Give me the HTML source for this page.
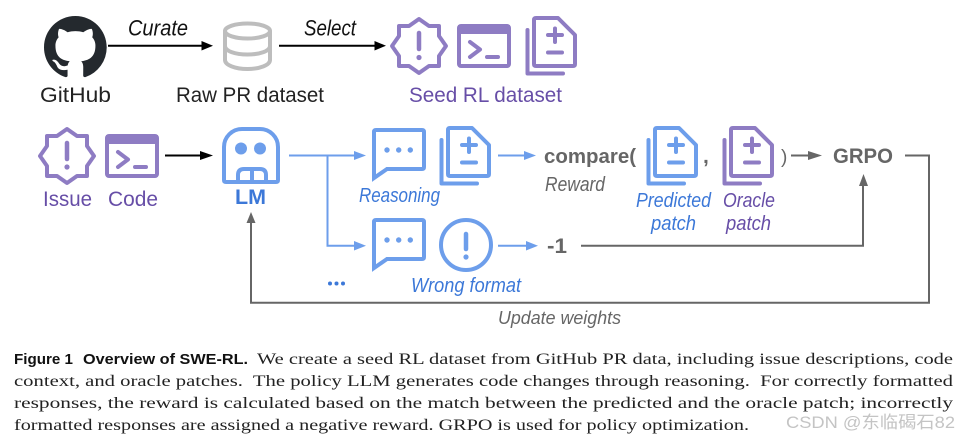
<!DOCTYPE html>
<html><head><meta charset="utf-8"><style>
html,body{margin:0;padding:0;background:#fff;width:958px;height:439px;overflow:hidden}
svg{display:block}
text{font-family:"Liberation Sans",sans-serif;font-size:21px}
.i{font-style:italic;font-size:20px}
.b{font-weight:bold}
.cap{font-family:"Liberation Serif",serif;font-size:16px;fill:#222;white-space:pre}
.fig{font-family:"Liberation Sans",sans-serif;font-size:15px;font-weight:bold;fill:#111}
</style></head><body>
<svg width="958" height="439" viewBox="0 0 958 439" xmlns="http://www.w3.org/2000/svg">
<defs>
<g id="badge" fill="none" stroke-width="4" stroke-linejoin="round" stroke-linecap="round">
<path d="M0-27 10-20H20V-10L27 0 20 10V20H10L0 27-10 20H-20V10L-27 0-20-10V-20H-10Z"/>
<path d="M0-13V3" stroke-width="4.500"/>
</g>
<g id="term" fill="none" stroke-width="4" stroke-linejoin="round" stroke-linecap="round">
<rect x="2" y="2" width="50" height="40" rx="2"/>
<path d="M13 18 23 25.500 13 33M30 33H41"/>
</g>
<g id="doc" fill="none" stroke-width="4" stroke-linejoin="round" stroke-linecap="round">
<path d="M11 2H33L50 19V48Q50 50 48 50H11Q9 50 9 48V4Q9 2 11 2Z"/>
<path d="M2.500 14V57.500H38"/>
<path d="M30 12.500V26M23 19H37M23 36.500H37"/>
</g>
<g id="chat" fill="none" stroke-width="4" stroke-linejoin="miter" stroke-miterlimit="10">
<path d="M2 50V4Q2 2 4 2H50Q52 2 52 4V39Q52 41 50 41H15Z"/>
</g>
</defs>

<!-- top row -->
<g transform="translate(44,16) scale(3.92)"><path fill="#24292e" d="M8 0C3.58 0 0 3.58 0 8c0 3.54 2.29 6.53 5.47 7.59.4.07.55-.17.55-.38 0-.19-.01-.82-.01-1.49-2.01.37-2.53-.49-2.69-.94-.09-.23-.48-.94-.82-1.13-.28-.15-.68-.52-.01-.53.63-.01 1.08.58 1.23.82.72 1.21 1.87.87 2.33.66.07-.52.28-.87.51-1.07-1.78-.2-3.64-.89-3.64-3.95 0-.87.31-1.59.82-2.15-.08-.2-.36-1.02.08-2.12 0 0 .67-.21 2.2.82.64-.18 1.32-.27 2-.27.68 0 1.36.09 2 .27 1.53-1.04 2.2-.82 2.2-.82.44 1.1.16 1.92.08 2.12.51.56.82 1.27.82 2.15 0 3.07-1.87 3.75-3.65 3.95.29.25.54.73.54 1.48 0 1.07-.01 1.93-.01 2.2 0 .21.15.46.55.38A8.013 8.013 0 0016 8c0-4.42-3.58-8-8-8z"/></g>
<text x="40" y="102" textLength="71" lengthAdjust="spacingAndGlyphs" fill="#222">GitHub</text>

<path d="M108 45.700H203" stroke="#000" stroke-width="2" fill="none"/>
<path d="M213 45.700 201.500 41V50.500Z" fill="#000"/>
<text class="i" x="128" y="35.500" textLength="60" lengthAdjust="spacingAndGlyphs" style="font-size:22px" fill="#111">Curate</text>

<g fill="none" stroke="#bdbdbd" stroke-width="4">
<ellipse cx="247.500" cy="31" rx="22.500" ry="7.500"/>
<path d="M225 31V60C225 65 235 69 247.500 69S270 65 270 60V31"/>
<path d="M225 46C225 51 235 54.500 247.500 54.500S270 51 270 46"/>
</g>
<text x="176" y="102" textLength="148" lengthAdjust="spacingAndGlyphs" fill="#222">Raw PR dataset</text>

<path d="M279 45.700H376" stroke="#000" stroke-width="2" fill="none"/>
<path d="M386 45.700 374.500 41V50.500Z" fill="#000"/>
<text class="i" x="304" y="35.500" textLength="52" lengthAdjust="spacingAndGlyphs" style="font-size:22px" fill="#111">Select</text>

<use href="#badge" x="419" y="46" stroke="#8e7cc3"/>
<circle cx="419" cy="57.500" r="2.600" fill="#8e7cc3"/>
<use href="#term" x="457" y="24" stroke="#8e7cc3"/>
<rect x="458" y="25" width="52" height="9" fill="#8e7cc3"/>
<use href="#doc" x="525" y="16" stroke="#8e7cc3"/>
<text x="409" y="102" textLength="153" lengthAdjust="spacingAndGlyphs" fill="#674ea7">Seed RL dataset</text>

<!-- second row -->
<use href="#badge" x="67" y="156" stroke="#8e7cc3"/>
<circle cx="67" cy="167" r="2.600" fill="#8e7cc3"/>
<use href="#term" x="105" y="134" stroke="#8e7cc3"/>
<rect x="106" y="135" width="52" height="9" fill="#8e7cc3"/>
<text x="43" y="206" textLength="49" lengthAdjust="spacingAndGlyphs" fill="#674ea7">Issue</text>
<text x="108" y="206" textLength="50" lengthAdjust="spacingAndGlyphs" fill="#674ea7">Code</text>

<path d="M165 155.500H204" stroke="#000" stroke-width="2" fill="none"/>
<path d="M213 155.500 200 151V160Z" fill="#000"/>

<g fill="none" stroke="#6d9eeb" stroke-width="4" stroke-linejoin="round">
<path d="M224 180V147A18 18 0 0 1 242 129H260A18 18 0 0 1 278 147V180Q278 182 276 182H226Q224 182 224 180Z"/>
<path d="M238 182V175Q238 169 244 169H260Q266 169 266 175V182M252 169V182"/>
</g>
<circle cx="241" cy="148.500" r="6" fill="#6d9eeb"/>
<circle cx="260" cy="148.500" r="6" fill="#6d9eeb"/>
<text class="b" x="235" y="204" textLength="31" lengthAdjust="spacingAndGlyphs" fill="#3c78d8">LM</text>

<g fill="none" stroke="#6d9eeb" stroke-width="2">
<path d="M289 155.500H356M327.500 155.500V245.700H356"/>
<path d="M498 155.500H527M498 245.700H529"/>
</g>
<g fill="#6d9eeb">
<path d="M366 155.500 354 151V160Z"/>
<path d="M366 245.700 354 241V250.500Z"/>
<path d="M536 155.500 524 151V160Z"/>
<path d="M538 245.700 526 241V250.500Z"/>
</g>

<use href="#chat" x="372" y="128" stroke="#6d9eeb"/>
<g fill="#6d9eeb"><circle cx="387" cy="150" r="2.700"/><circle cx="398.700" cy="150" r="2.700"/><circle cx="410.300" cy="150" r="2.700"/></g>
<use href="#doc" x="439" y="126" stroke="#6d9eeb"/>
<text class="i" x="359" y="202" textLength="81" lengthAdjust="spacingAndGlyphs" fill="#3c78d8">Reasoning</text>

<use href="#chat" x="372" y="218" stroke="#6d9eeb"/>
<g fill="#6d9eeb"><circle cx="387" cy="240" r="2.700"/><circle cx="398.700" cy="240" r="2.700"/><circle cx="410.300" cy="240" r="2.700"/></g>
<circle cx="466" cy="245" r="25" fill="none" stroke="#6d9eeb" stroke-width="4"/>
<path d="M466 234V249" stroke="#6d9eeb" stroke-width="4.500" stroke-linecap="round"/>
<circle cx="466" cy="257" r="2.600" fill="#6d9eeb"/>
<text class="i" x="411" y="292" textLength="110" lengthAdjust="spacingAndGlyphs" fill="#3c78d8">Wrong format</text>
<g fill="#3c78d8"><circle cx="330" cy="283.500" r="2"/><circle cx="336.500" cy="283.500" r="2"/><circle cx="343" cy="283.500" r="2"/></g>

<text class="b" x="544" y="163" textLength="92" lengthAdjust="spacingAndGlyphs" style="font-size:20px" fill="#666">compare(</text>
<text class="i" x="545" y="191" textLength="60" lengthAdjust="spacingAndGlyphs" fill="#666">Reward</text>
<use href="#doc" x="646" y="126" stroke="#6d9eeb"/>
<text class="b" x="703" y="163" fill="#666">,</text>
<use href="#doc" x="722" y="126" stroke="#8e7cc3"/>
<text class="i" x="636" y="207" textLength="75" lengthAdjust="spacingAndGlyphs" fill="#3c78d8">Predicted</text>
<text class="i" x="651" y="230" textLength="45" lengthAdjust="spacingAndGlyphs" fill="#3c78d8">patch</text>
<text class="i" x="723" y="207" textLength="52" lengthAdjust="spacingAndGlyphs" fill="#674ea7">Oracle</text>
<text class="i" x="726" y="230" textLength="45" lengthAdjust="spacingAndGlyphs" fill="#674ea7">patch</text>
<text x="781" y="163" fill="#666" style="font-size:19px">)</text>

<path d="M791 155.500H813" stroke="#666" stroke-width="2" fill="none"/>
<path d="M822 155.500 808 151V160Z" fill="#666"/>
<text class="b" x="833" y="163" textLength="60" lengthAdjust="spacingAndGlyphs" fill="#666">GRPO</text>
<text class="b" x="547" y="253" textLength="20" lengthAdjust="spacingAndGlyphs" fill="#666">-1</text>

<path d="M581 245.700H863V182" stroke="#666" stroke-width="2" fill="none"/>
<path d="M863.500 174 859 186H868Z" fill="#666"/>
<path d="M905 155.500H929V302.700H251V220" stroke="#666" stroke-width="2" fill="none"/>
<path d="M251 212 246.500 223H255.500Z" fill="#666"/>
<text class="i" x="498" y="324" textLength="123" lengthAdjust="spacingAndGlyphs" style="font-size:18px" fill="#666">Update weights</text>

<!-- caption -->
<text class="fig" x="14" y="364" textLength="59" lengthAdjust="spacingAndGlyphs">Figure 1</text>
<text class="fig" x="83" y="364" textLength="165" lengthAdjust="spacingAndGlyphs">Overview of SWE-RL.</text>
<text class="cap" x="257" y="364" textLength="696" lengthAdjust="spacingAndGlyphs">We create a seed RL dataset from GitHub PR data, including issue descriptions, code</text>
<text class="cap" x="14" y="386" textLength="939" lengthAdjust="spacingAndGlyphs">context, and oracle patches.  The policy LLM generates code changes through reasoning.  For correctly formatted</text>
<text class="cap" x="14" y="408" textLength="939" lengthAdjust="spacingAndGlyphs">responses, the reward is calculated based on the match between the predicted and the oracle patch; incorrectly</text>
<text class="cap" x="14" y="430" textLength="735" lengthAdjust="spacingAndGlyphs">formatted responses are assigned a negative reward. GRPO is used for policy optimization.</text>
<text x="786" y="428" textLength="169" lengthAdjust="spacingAndGlyphs" style="font-family:'Liberation Sans','Noto Sans CJK SC',sans-serif;font-size:17px" fill="#c4c4c4">CSDN @东临碣石82</text>
</svg>
</body></html>
